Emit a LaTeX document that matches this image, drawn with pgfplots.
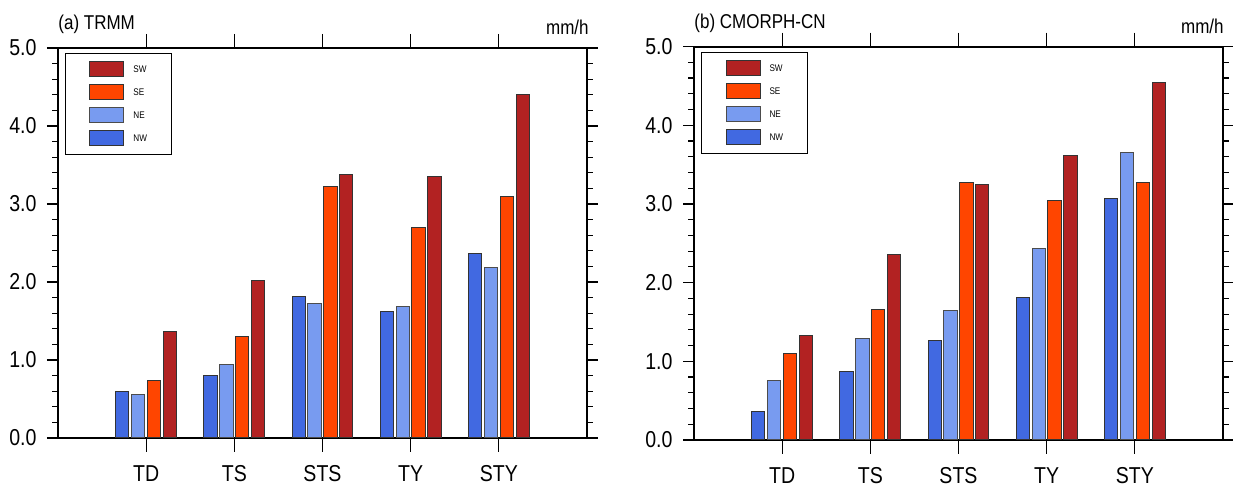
\documentclass[border=0pt]{standalone}
\usepackage{fontspec}
\setmainfont{Liberation Sans}[FakeStretch=0.85]
\usepackage{pgfplots}
\pgfplotsset{compat=1.18}

\definecolor{cNW}{RGB}{65,105,225}
\definecolor{cNE}{RGB}{120,155,240}
\definecolor{cSE}{RGB}{255,69,0}
\definecolor{cSW}{RGB}{178,34,34}

\pgfplotsset{
  panel/.style={
    scale only axis, width=264.5pt,
    xmin=0, xmax=6, ymin=0, ymax=5,
    clip=false,
    xtick={1,2,3,4,5}, xticklabels={TD,TS,STS,TY,STY},
    ytick={0,1,2,3,4,5}, minor y tick num=4,
    tick align=outside, tick pos=both,
    xticklabel pos=lower, yticklabel pos=left,
    /pgf/number format/fixed,
    /pgf/number format/fixed zerofill,
    /pgf/number format/precision=1,
    /pgf/number format/assume math mode=true,
    major tick length=5.5pt, minor tick length=2.8pt,
    xtick style={/pgfplots/major tick length=7pt},
    every tick/.style={black, line width=0.6pt},
    axis line style={line width=1pt},
    tick label style={font=\fontsize{11.5}{12}\selectfont},
    xticklabel style={yshift=-4.7pt},
    yticklabel style={xshift=-1.7pt},
    ybar, bar width=0.15,
    legend image code/.code={
      \path (-12pt,0) (21.5pt,0);
      \draw[##1, line width=0.5pt] (0pt,-3.75pt) rectangle (17pt,3.75pt);
    },
    reverse legend,
    legend style={at={(0,1)}, anchor=north west, xshift=3.5pt, yshift=-2.5pt,
      draw=black, line width=0.5pt, inner xsep=0pt, inner ysep=4pt,
      row sep=3.5pt, column sep=0pt,
      nodes={inner sep=0pt, text depth=0pt, font=\fontsize{4.8}{5}\selectfont},
      cells={anchor=west}},
  },
  nw/.style={fill=cNW, draw=black!80, line width=0.5pt, bar shift=-0.27},
  ne/.style={fill=cNE, draw=black!70, line width=0.5pt, bar shift=-0.09},
  se/.style={fill=cSE, draw=black!80, line width=0.5pt, bar shift=0.09},
  sw/.style={fill=cSW, draw=black!80, line width=0.5pt, bar shift=0.27},
}

\begin{document}
\begin{tikzpicture}
\useasboundingbox (0,0) rectangle (616.5pt,245.5pt);

\begin{axis}[panel, height=195pt, at={(29pt,26.5pt)}, anchor=south west]
\addplot[nw] coordinates {(1,0.60) (2,0.80) (3,1.82) (4,1.62) (5,2.37)};
\addplot[ne] coordinates {(1,0.56) (2,0.94) (3,1.72) (4,1.68) (5,2.18)};
\addplot[se] coordinates {(1,0.74) (2,1.30) (3,3.23) (4,2.70) (5,3.09)};
\addplot[sw] coordinates {(1,1.37) (2,2.02) (3,3.38) (4,3.35) (5,4.40)};
\legend{\makebox[19pt][l]{NW},\makebox[19pt][l]{NE},\makebox[19pt][l]{SE},\makebox[19pt][l]{SW}}
\node[anchor=base west, inner sep=0pt, font=\fontsize{10}{12}\selectfont] at (rel axis cs:0,1) [yshift=9.25pt] {(a) TRMM};
\node[anchor=base east, inner sep=0pt, font=\fontsize{10}{12}\selectfont] at (rel axis cs:1,1) [yshift=6.5pt, xshift=1pt] {mm/h};
\end{axis}

\begin{axis}[panel, height=196.7pt, at={(347pt,25.5pt)}, anchor=south west]
\addplot[nw] coordinates {(1,0.36) (2,0.87) (3,1.26) (4,1.81) (5,3.07)};
\addplot[ne] coordinates {(1,0.75) (2,1.29) (3,1.64) (4,2.43) (5,3.66)};
\addplot[se] coordinates {(1,1.10) (2,1.66) (3,3.27) (4,3.05) (5,3.27)};
\addplot[sw] coordinates {(1,1.33) (2,2.36) (3,3.25) (4,3.62) (5,4.55)};
\legend{\makebox[19pt][l]{NW},\makebox[19pt][l]{NE},\makebox[19pt][l]{SE},\makebox[19pt][l]{SW}}
\node[anchor=base west, inner sep=0pt, font=\fontsize{10}{12}\selectfont] at (rel axis cs:0,1) [yshift=9.3pt] {(b) CMORPH-CN};
\node[anchor=base east, inner sep=0pt, font=\fontsize{10}{12}\selectfont] at (rel axis cs:1,1) [yshift=6.5pt, xshift=0.5pt] {mm/h};
\end{axis}
\end{tikzpicture}
\end{document}
